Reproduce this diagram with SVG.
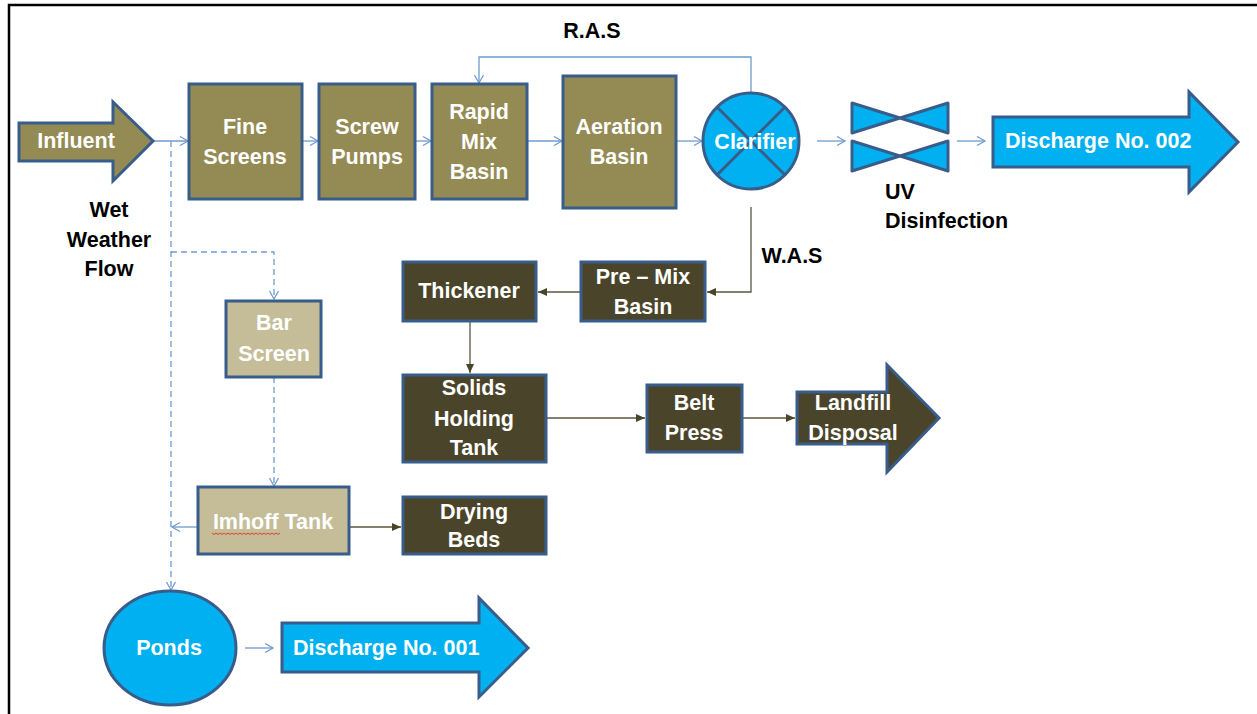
<svg xmlns="http://www.w3.org/2000/svg" width="1257" height="714" viewBox="0 0 1257 714">
<defs>
<style>
.frame{stroke:#000;stroke-width:2.5;fill:none}
.olive{fill:#948A54;stroke:#385D8A;stroke-width:3}
.dark{fill:#4A452A;stroke:#385D8A;stroke-width:3}
.beige{fill:#C4BD97;stroke:#385D8A;stroke-width:3}
.blue{fill:#00B0F0;stroke:#385D8A;stroke-width:3}
.wt{font-family:"Liberation Sans",Arial,sans-serif;font-weight:bold;font-size:21.5px;fill:#fff;text-anchor:middle}
.bk{font-family:"Liberation Sans",Arial,sans-serif;font-weight:bold;font-size:21.5px;fill:#000;text-anchor:middle}
.cb{fill:none;stroke:#6F9BD1;stroke-width:1.3}
.cbd{fill:none;stroke:#6F9BD1;stroke-width:1.3;stroke-dasharray:6 4}
.cd{fill:none;stroke:#5A5640;stroke-width:1.3}
</style>
<marker id="oa" markerWidth="12" markerHeight="12" refX="10" refY="6" orient="auto" markerUnits="userSpaceOnUse">
<path d="M2,1.5 L10,6 L2,10.5" fill="none" stroke="#6F9BD1" stroke-width="1.3"/>
</marker>
<marker id="sa" markerWidth="10" markerHeight="10" refX="9" refY="5" orient="auto" markerUnits="userSpaceOnUse">
<path d="M0,1 L9,5 L0,9 Z" fill="#4A452A"/>
</marker>
</defs>
<rect x="0" y="0" width="1257" height="714" fill="#fff"/>
<path class="frame" d="M9,714 L9,5 L1257,5"/>

<g id="connectors">
<path class="cb" d="M153,141 L188,141" marker-end="url(#oa)"/>
<path class="cb" d="M302,141 L318,141" marker-end="url(#oa)"/>
<path class="cb" d="M415,141 L431,141" marker-end="url(#oa)"/>
<path class="cb" d="M527,141 L562,141" marker-end="url(#oa)"/>
<path class="cb" d="M676,141 L702,141" marker-end="url(#oa)"/>
<path class="cb" d="M817,141 L845,141" marker-end="url(#oa)"/>
<path class="cb" d="M957,141 L985,141" marker-end="url(#oa)"/>
<path class="cb" d="M751,93 L751,57 L479,57 L479,83" marker-end="url(#oa)"/>
<path class="cbd" d="M171,141 L171,590" marker-end="url(#oa)"/>
<path class="cbd" d="M171,252 L274,252 L274,299" marker-end="url(#oa)"/>
<path class="cbd" d="M274,377 L274,486" marker-end="url(#oa)"/>
<path class="cb" d="M198,527 L172,527" marker-end="url(#oa)"/>
<path class="cb" d="M245,648 L273,648" marker-end="url(#oa)"/>
<path class="cd" d="M751,207 L751,292 L707,292" marker-end="url(#sa)"/>
<path class="cd" d="M581,292 L538,292" marker-end="url(#sa)"/>
<path class="cd" d="M470,321 L470,373" marker-end="url(#sa)"/>
<path class="cd" d="M546,418 L645,418" marker-end="url(#sa)"/>
<path class="cd" d="M742,418 L795,418" marker-end="url(#sa)"/>
<path class="cd" d="M349,527 L401,527" marker-end="url(#sa)"/>
</g>

<g id="influent">
<polygon class="olive" points="19,123 113,123 113,102 153,141 113,181 113,161 19,161"/>
<text class="wt" x="76" y="148">Influent</text>
</g>
<g id="wet-weather-flow">
<text class="bk" x="109" y="217">Wet</text>
<text class="bk" x="109" y="247">Weather</text>
<text class="bk" x="109" y="276">Flow</text>
</g>
<g id="fine-screens">
<rect class="olive" x="189" y="84" width="113" height="115"/>
<text class="wt" x="245" y="134">Fine</text>
<text class="wt" x="245" y="164">Screens</text>
</g>
<g id="screw-pumps">
<rect class="olive" x="319" y="84" width="96" height="115"/>
<text class="wt" x="367" y="134">Screw</text>
<text class="wt" x="367" y="164">Pumps</text>
</g>
<g id="rapid-mix-basin">
<rect class="olive" x="432" y="84" width="95" height="115"/>
<text class="wt" x="479" y="119">Rapid</text>
<text class="wt" x="479" y="149">Mix</text>
<text class="wt" x="479" y="179">Basin</text>
</g>
<g id="aeration-basin">
<rect class="olive" x="563" y="76" width="113" height="132"/>
<text class="wt" x="619" y="134">Aeration</text>
<text class="wt" x="619" y="164">Basin</text>
</g>
<g id="clarifier">
<circle class="blue" cx="751" cy="141" r="48"/>
<path d="M717,107 L785,175 M785,107 L717,175" stroke="#385D8A" stroke-width="3" fill="none"/>
<text class="wt" x="755" y="149">Clarifier</text>
</g>
<g id="ras-label">
<text class="bk" x="592" y="38">R.A.S</text>
</g>
<g id="uv-disinfection">
<path class="blue" stroke-linejoin="round" d="M852,103 L900,118 L852,133 Z M948,103 L900,118 L948,133 Z"/>
<path class="blue" stroke-linejoin="round" d="M852,141 L900,156 L852,171 Z M948,141 L900,156 L948,171 Z"/>
<text class="bk" x="885" y="199" style="text-anchor:start">UV</text>
<text class="bk" x="885" y="228" style="text-anchor:start">Disinfection</text>
</g>
<g id="discharge-002">
<polygon class="blue" points="993,117 1189,117 1189,92 1238,142 1189,192 1189,167 993,167"/>
<text class="wt" x="1005" y="148" style="text-anchor:start">Discharge No. 002</text>
</g>
<g id="was-label">
<text class="bk" x="792" y="263">W.A.S</text>
</g>
<g id="pre-mix-basin">
<rect class="dark" x="581" y="262" width="124" height="59"/>
<text class="wt" x="643" y="284">Pre – Mix</text>
<text class="wt" x="643" y="314">Basin</text>
</g>
<g id="thickener">
<rect class="dark" x="403" y="262" width="133" height="59"/>
<text class="wt" x="469" y="298">Thickener</text>
</g>
<g id="solids-holding-tank">
<rect class="dark" x="403" y="375" width="143" height="87"/>
<text class="wt" x="474" y="395">Solids</text>
<text class="wt" x="474" y="426">Holding</text>
<text class="wt" x="474" y="455">Tank</text>
</g>
<g id="belt-press">
<rect class="dark" x="647" y="385" width="95" height="67"/>
<text class="wt" x="694" y="410">Belt</text>
<text class="wt" x="694" y="440">Press</text>
</g>
<g id="landfill-disposal">
<polygon class="dark" points="797,392 887,392 887,365 939,418 887,472 887,444 797,444"/>
<text class="wt" x="853" y="410">Landfill</text>
<text class="wt" x="853" y="440">Disposal</text>
</g>
<g id="bar-screen">
<rect class="beige" x="226" y="301" width="95" height="76"/>
<text class="wt" x="274" y="330">Bar</text>
<text class="wt" x="274" y="361">Screen</text>
</g>
<g id="imhoff-tank">
<rect class="beige" x="198" y="487" width="151" height="67"/>
<text class="wt" x="273" y="529">Imhoff Tank</text>
<path d="M212,533 l2,1.5 l2,-1.5 l2,1.5 l2,-1.5 l2,1.5 l2,-1.5 l2,1.5 l2,-1.5 l2,1.5 l2,-1.5 l2,1.5 l2,-1.5 l2,1.5 l2,-1.5 l2,1.5 l2,-1.5 l2,1.5 l2,-1.5 l2,1.5 l2,-1.5 l2,1.5 l2,-1.5 l2,1.5 l2,-1.5 l2,1.5 l2,-1.5 l2,1.5 l2,-1.5 l2,1.5 l2,-1.5 l2,1.5 l2,-1.5 l2,1.5 l2,-1.5" fill="none" stroke="#E03030" stroke-width="0.9"/>
</g>
<g id="drying-beds">
<rect class="dark" x="403" y="497" width="143" height="57"/>
<text class="wt" x="474" y="519">Drying</text>
<text class="wt" x="474" y="547">Beds</text>
</g>
<g id="ponds">
<ellipse class="blue" cx="170" cy="648" rx="66" ry="57"/>
<text class="wt" x="169" y="655">Ponds</text>
</g>
<g id="discharge-001">
<polygon class="blue" points="282,623 479,623 479,598 528,648 479,697 479,672 282,672"/>
<text class="wt" x="293" y="655" style="text-anchor:start">Discharge No. 001</text>
</g>
</svg>
